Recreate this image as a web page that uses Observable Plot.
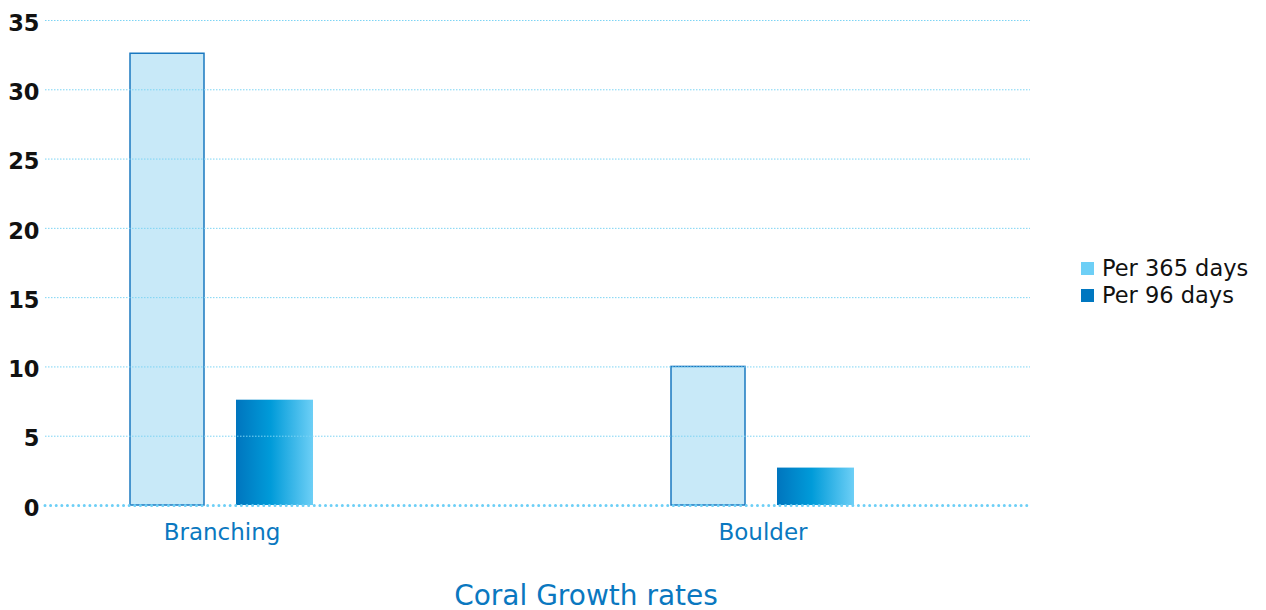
<!DOCTYPE html>
<html>
<head>
<meta charset="utf-8">
<script src="https://cdn.jsdelivr.net/npm/d3@7"></script>
<script src="https://cdn.jsdelivr.net/npm/@observablehq/plot@0.6"></script>
<style>
  html, body { margin: 0; padding: 0; background: #fff; }
  #wrap { position: relative; width: 1266px; height: 610px; font-family: "DejaVu Sans", sans-serif; }
  #chart svg { display: block; }
  #caption { width: 1172px; text-align: center; margin-top: 20px; font-size: 28px; line-height: 32px; color: #0a78c0; }
  #legend { position: absolute; left: 1081px; top: 255px; font-size: 22.5px; line-height: 27px; color: #111; }
  .row { display: flex; align-items: center; white-space: nowrap; }
  .sw { width: 13px; height: 13px; margin-right: 8px; flex: none; }
</style>
</head>
<body>
<div id="wrap">
  <div id="chart"></div>
  <div id="caption"></div>
  <div id="legend"></div>
</div>
<script>
const categories = ["Branching", "Boulder"];
const seriesNames = ["Per 365 days", "Per 96 days"];
const per365 = [32.6, 10.0];
const per96 = [7.6, 2.7];
const yTicks = [0, 5, 10, 15, 20, 25, 30, 35];
const xTitle = "Coral Growth rates";
const legendColors = ["#6dcff6", "#0077c0"];

const data365 = categories.map((c, i) => ({category: c, value: per365[i]}));
const data96 = categories.map((c, i) => ({category: c, value: per96[i]}));

const gradientDefs = () => {
  const ns = "http://www.w3.org/2000/svg";
  const defs = document.createElementNS(ns, "defs");
  const lg = document.createElementNS(ns, "linearGradient");
  lg.setAttribute("id", "barGrad");
  lg.setAttribute("x1", "0"); lg.setAttribute("x2", "1");
  lg.setAttribute("y1", "0"); lg.setAttribute("y2", "0");
  [["0%", "#0075be"], ["45%", "#009bd9"], ["100%", "#6dcff6"]].forEach(([o, c]) => {
    const s = document.createElementNS(ns, "stop");
    s.setAttribute("offset", o);
    s.setAttribute("stop-color", c);
    lg.appendChild(s);
  });
  defs.appendChild(lg);
  return defs;
};

const chart = Plot.plot({
  width: 1060,
  height: 560,
  marginTop: 20,
  marginBottom: 55,
  marginLeft: 45,
  marginRight: 30,
  style: {fontFamily: "DejaVu Sans, sans-serif", background: "#fff"},
  x: {domain: categories, paddingInner: 0.6624, paddingOuter: 0.24, align: 0.327, label: null},
  y: {domain: [0, 35], label: null},
  marks: [
    gradientDefs,
    Plot.barY(data365, {x: "category", y: "value", fill: "#c8e9f8", stroke: "#1a78c0", strokeWidth: 1.5, insetRight: 109}),
    Plot.barY(data96, {x: "category", y: "value", fill: "url(#barGrad)", insetLeft: 106}),
    Plot.gridY(yTicks.filter(t => t !== 0), {stroke: "#7dd4f4", strokeOpacity: 1, strokeWidth: 1, strokeDasharray: "1.5,1.5"}),
    Plot.ruleY([0], {stroke: "#6dcff6", strokeWidth: 3, strokeDasharray: "0.01,5.6", strokeLinecap: "round"}),
    Plot.axisY({ticks: yTicks, tickSize: 0, tickPadding: 6, fontSize: 22.5, fontWeight: "bold", fill: "#111", dy: 3, label: null}),
    Plot.axisX({tickSize: 0, tickPadding: 18, fontSize: 23, fill: "#0a78c0", label: null})
  ]
});
document.getElementById("chart").appendChild(chart);
document.getElementById("caption").textContent = xTitle;

const legend = document.getElementById("legend");
seriesNames.forEach((name, i) => {
  const row = document.createElement("div");
  row.className = "row";
  const sw = document.createElement("span");
  sw.className = "sw";
  sw.style.background = legendColors[i];
  const t = document.createElement("span");
  t.textContent = name;
  row.appendChild(sw);
  row.appendChild(t);
  legend.appendChild(row);
});
</script>
</body>
</html>
